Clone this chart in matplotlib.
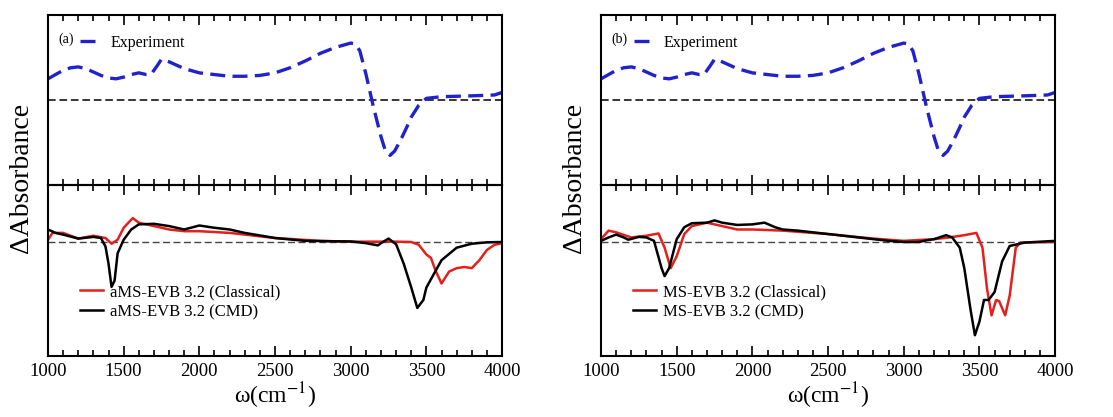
import numpy as np
import matplotlib
matplotlib.use("Agg")
import matplotlib.pyplot as plt
from matplotlib.ticker import MultipleLocator

plt.rcParams['font.family'] = ['Liberation Serif', 'DejaVu Serif']
plt.rcParams['mathtext.fontset'] = 'stix'

# experiment (same in both panels)
exp_w = [1000, 1050, 1100, 1150, 1200, 1250, 1300, 1350, 1400, 1450, 1500, 1550, 1600,
         1650, 1680, 1720, 1750, 1800, 1850, 1900, 2000, 2100, 2200, 2300, 2400, 2500,
         2600, 2700, 2800, 2900, 3000, 3030, 3060, 3100, 3150, 3200, 3230, 3260, 3290,
         3330, 3370, 3400, 3450, 3500, 3600, 3800, 3950, 4000]
exp_a = [0.25, 0.30, 0.35, 0.38, 0.39, 0.37, 0.33, 0.29, 0.26, 0.25, 0.27, 0.30, 0.32,
         0.30, 0.30, 0.40, 0.48, 0.45, 0.41, 0.37, 0.32, 0.30, 0.28, 0.28, 0.29, 0.32,
         0.38, 0.46, 0.55, 0.62, 0.67, 0.66, 0.58, 0.31, -0.08, -0.43, -0.60, -0.65, -0.60,
         -0.47, -0.32, -0.20, -0.06, 0.02, 0.04, 0.05, 0.06, 0.09]

# (a) aMS-EVB 3.2
a_cmd_w = [1000, 1050, 1100, 1200, 1300, 1350, 1380, 1400, 1420, 1440, 1460, 1500, 1550,
           1600, 1700, 1800, 1900, 2000, 2100, 2200, 2300, 2500, 2700, 2900, 3000, 3100,
           3180, 3200, 3250, 3300, 3350, 3400, 3440, 3480, 3500, 3550, 3600, 3700, 3800,
           3900, 4000]
a_cmd_a = [0.11, 0.08, 0.065, 0.03, 0.045, 0.035, -0.04, -0.19, -0.395, -0.34, -0.1, 0.02, 0.11,
           0.155, 0.16, 0.14, 0.11, 0.145, 0.125, 0.11, 0.08, 0.035, 0.01, 0.006, 0.005, -0.01,
           -0.03, -0.01, 0.03, -0.02, -0.19, -0.40, -0.58, -0.51, -0.40, -0.28, -0.16, -0.05, -0.015,
           -0.003, 0.0]
a_cls_w = [1000, 1030, 1100, 1200, 1300, 1380, 1420, 1460, 1500, 1560, 1600, 1700, 1800,
           1900, 2000, 2200, 2500, 2800, 3000, 3300, 3400, 3450, 3500, 3530, 3560, 3600,
           3650, 3700, 3750, 3800, 3850, 3900, 3950, 4000]
a_cls_a = [0.02, 0.08, 0.08, 0.03, 0.055, 0.035, -0.015, 0.02, 0.125, 0.21, 0.17, 0.14, 0.11,
           0.095, 0.095, 0.08, 0.035, 0.01, 0.003, 0.003, 0.0, -0.025, -0.11, -0.14, -0.25, -0.365,
           -0.26, -0.23, -0.22, -0.23, -0.16, -0.07, -0.025, -0.01]

# (b) MS-EVB 3.2
b_cmd_w = [1000, 1050, 1100, 1150, 1180, 1250, 1300, 1350, 1400, 1420, 1450, 1500, 1550,
           1600, 1700, 1750, 1800, 1900, 2000, 2080, 2150, 2200, 2300, 2500, 2700, 2900,
           3000, 3100, 3150, 3200, 3280, 3320, 3370, 3400, 3440, 3470, 3500, 3530, 3560,
           3600, 3650, 3700, 3800, 4000]
b_cmd_a = [0.01, 0.04, 0.065, 0.04, 0.02, 0.045, 0.04, 0.01, -0.23, -0.30, -0.23, 0.025, 0.13,
           0.165, 0.17, 0.19, 0.17, 0.15, 0.155, 0.17, 0.13, 0.11, 0.10, 0.07, 0.04, 0.01,
           0.0, 0.0, 0.015, 0.025, 0.06, 0.04, -0.05, -0.23, -0.585, -0.82, -0.70, -0.51, -0.51,
           -0.44, -0.17, -0.035, -0.005, 0.01]
b_cls_w = [1000, 1050, 1100, 1200, 1300, 1380, 1420, 1460, 1500, 1550, 1600, 1700, 1800,
           1900, 2000, 2200, 2500, 2800, 3000, 3200, 3300, 3400, 3480, 3520, 3550, 3580,
           3610, 3630, 3670, 3700, 3740, 3770, 4000]
b_cls_a = [0.025, 0.10, 0.085, 0.04, 0.055, 0.075, -0.05, -0.23, -0.125, 0.07, 0.14, 0.17, 0.14,
           0.11, 0.11, 0.10, 0.07, 0.03, 0.01, 0.025, 0.04, 0.06, 0.08, -0.05, -0.41, -0.645,
           -0.51, -0.52, -0.645, -0.47, -0.05, -0.005, 0.0]

panels = [
    ('(a)', 0.0431, [(a_cls_w, a_cls_a, 'aMS-EVB 3.2 (Classical)'), (a_cmd_w, a_cmd_a, 'aMS-EVB 3.2 (CMD)')]),
    ('(b)', 0.540, [(b_cls_w, b_cls_a, 'MS-EVB 3.2 (Classical)'), (b_cmd_w, b_cmd_a, 'MS-EVB 3.2 (CMD)')]),
]
sim_colors = ['#e3201b', 'black']


def style_axes(ax):
    ax.set_xlim(1000, 4000)
    ax.xaxis.set_major_locator(MultipleLocator(500))
    ax.xaxis.set_minor_locator(MultipleLocator(100))
    ax.tick_params(axis='x', which='both', direction='in', top=True, bottom=True, width=1.2)
    ax.tick_params(axis='x', which='major', length=7.5)
    ax.tick_params(axis='x', which='minor', length=4.3)
    ax.set_yticks([])
    ax.patch.set_alpha(0)
    for s in ax.spines.values():
        s.set_linewidth(1.5)


fig = plt.figure(figsize=(11.13, 4.17), dpi=100)
w = 0.408

for tag, x0, sims in panels:
    ax_top = fig.add_axes([x0, 0.556, w, 0.408])
    ax_bot = fig.add_axes([x0, 0.147, w, 0.409])

    # top: experiment
    ax_top.axhline(0, color='black', lw=1.1, dashes=(5, 2.5))
    ax_top.plot(exp_w, exp_a, color='#2222cc', lw=2.4, dashes=(4.5, 2.2), label='Experiment')
    ax_top.set_ylim(-1, 1)
    style_axes(ax_top)
    ax_top.tick_params(axis='x', labelbottom=False)
    ax_top.text(0.022, 0.90, tag, transform=ax_top.transAxes, fontsize=10, va='top')
    ax_top.legend(loc='upper left', bbox_to_anchor=(0.047, 0.95), frameon=False,
                  fontsize=11.5, handlelength=1.1, handletextpad=0.8, borderpad=0.2)

    # bottom: simulations
    ax_bot.axhline(0, color='#444444', lw=1.0, dashes=(5, 2.5))
    for (sw, sa, lab), c in zip(sims, sim_colors):
        ax_bot.plot(sw, sa, color=c, lw=1.8, label=lab)
    ax_bot.set_ylim(-1.0, 0.5)
    style_axes(ax_bot)
    ax_bot.tick_params(axis='x', labelsize=13.5, pad=5)
    ax_bot.set_xlabel(r'ω(cm$^{-1}$)', fontsize=17, labelpad=1)
    ax_bot.legend(loc='lower left', bbox_to_anchor=(0.037, 0.12), frameon=False,
                  fontsize=12, handlelength=1.4, handletextpad=0.4, labelspacing=0.25)

    fig.text(x0 - 0.024, 0.573, 'ΔAbsorbance', rotation=90, fontsize=20,
             ha='center', va='center')

fig.savefig('out.png', dpi=100)
